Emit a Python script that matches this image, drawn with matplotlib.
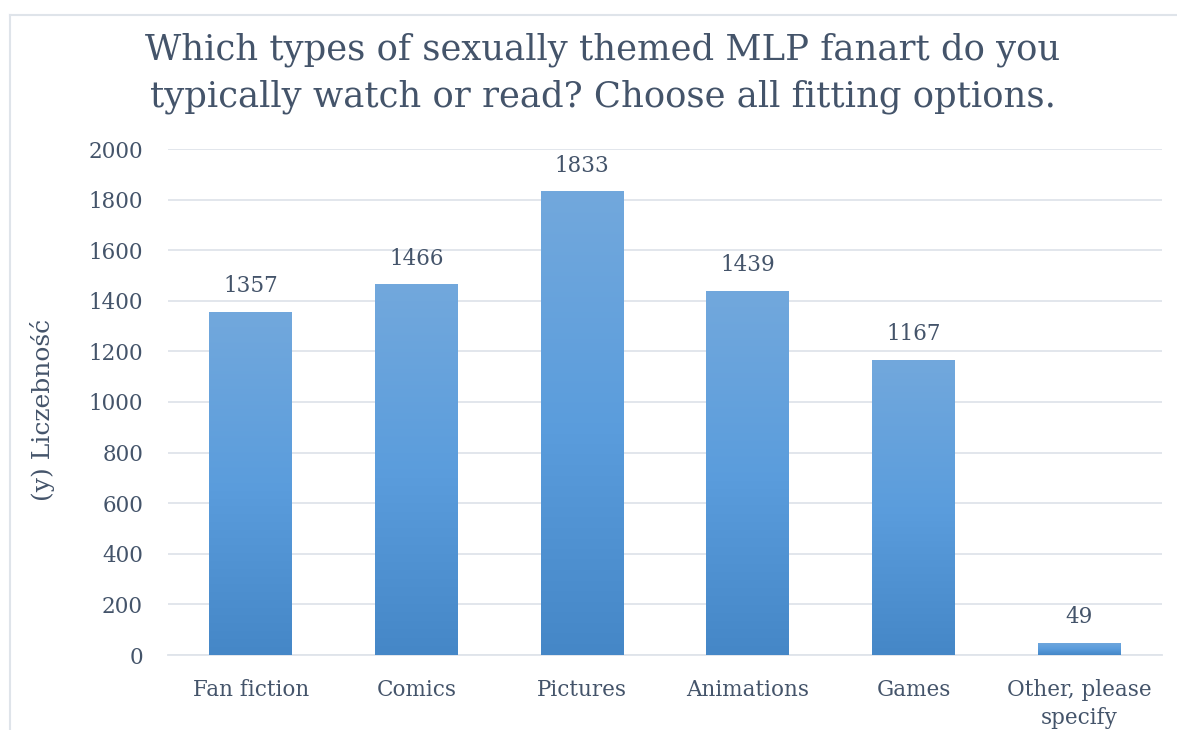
import numpy as np
import matplotlib
matplotlib.use("Agg")
import matplotlib.pyplot as plt
from matplotlib.colors import LinearSegmentedColormap
from matplotlib.lines import Line2D

categories = ["Fan fiction", "Comics", "Pictures", "Animations", "Games", "Other, please\nspecify"]
values = [1357, 1466, 1833, 1439, 1167, 49]
yticks = [0, 200, 400, 600, 800, 1000, 1200, 1400, 1600, 1800, 2000]
title = "Which types of sexually themed MLP fanart do you\ntypically watch or read? Choose all fitting options."
ylabel = "(y) Liczebność"

TXT = "#44546A"
GRID = "#DFE4EA"
FONT = "DejaVu Serif"

fig = plt.figure(figsize=(11.77, 7.3), dpi=100)
ax = fig.add_axes([168/1177, 1-655/730, (1162-168)/1177, (655-149)/730])

x = np.arange(len(categories))
bars = ax.bar(x, values, width=0.5, color="#5B9BD5", zorder=2)
cmap = LinearSegmentedColormap.from_list("g", ["#4587C7", "#5B9DDD", "#72A8DC"])
grad = np.linspace(0, 1, 256).reshape(-1, 1)
for b in bars:
    x0, y0 = b.get_x(), b.get_y()
    w, h = b.get_width(), b.get_height()
    im = ax.imshow(grad, cmap=cmap, aspect="auto", origin="lower",
                   extent=[x0, x0 + w, y0, y0 + h], zorder=3)
    im.set_clip_path(b)

for xi, v in zip(x, values):
    ax.annotate(str(v), (xi, v), xytext=(0, 10.5), textcoords="offset points",
                ha="center", va="bottom", fontsize=15.5, color=TXT, family=FONT)

ax.set_xlim(-0.5, len(categories) - 0.5)
ax.set_ylim(0, 2000)
ax.set_yticks(yticks)
ax.set_yticklabels([str(t) for t in yticks], fontsize=15.5, color=TXT, family=FONT)
ax.set_xticks(x)
ax.set_xticklabels(categories, fontsize=15.5, color=TXT, family=FONT, linespacing=1.35, va="top")
ax.tick_params(axis="both", length=0)
ax.tick_params(axis="y", pad=18)
ax.tick_params(axis="x", pad=17.5)
ax.grid(axis="y", color=GRID, linewidth=1.3, zorder=0)
ax.set_axisbelow(True)
for s in ["top", "right", "left"]:
    ax.spines[s].set_visible(False)
ax.spines["bottom"].set_color(GRID)
ax.spines["bottom"].set_linewidth(1.3)

fig.text(43/1177, 1-410/730, ylabel, rotation=90, ha="center", va="center",
         fontsize=18, color=TXT, family=FONT)
fig.text(603/1177, 1-73/730, title, ha="center", va="center", fontsize=25.5,
         color=TXT, family=FONT, linespacing=1.45)

fig.add_artist(Line2D([9.5/1177, 9.5/1177], [0, 1-14.5/730], transform=fig.transFigure, color=GRID, lw=1.5))
fig.add_artist(Line2D([9.5/1177, 1], [1-14.5/730, 1-14.5/730], transform=fig.transFigure, color=GRID, lw=1.5))

fig.savefig("out.png", dpi=100)
